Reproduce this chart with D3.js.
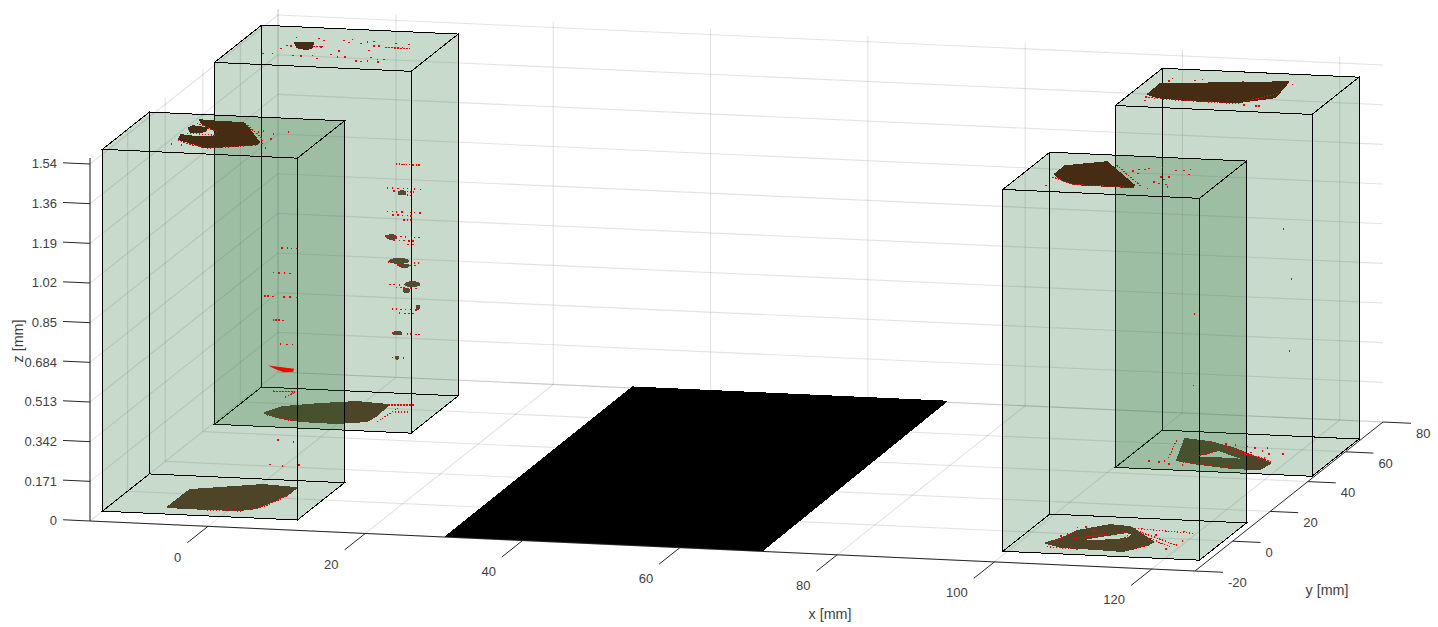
<!DOCTYPE html>
<html>
<head>
<meta charset="utf-8">
<title>Layer slices</title>
<script src="https://cdn.jsdelivr.net/npm/d3@7"></script>
<style>
html, body { margin: 0; background: #fff; }
text { font-family: "Liberation Sans", Arial, sans-serif; fill: #404040; font-size: 13px; }
</style>
</head>
<body>
<svg id="chart" width="1438" height="627"></svg>
<script>
// Axis ranges and ticks
var xRange = [-15, 125.5], yRange = [-20, 80], zRange = [0, 1.565];
var xTicks = [0, 20, 40, 60, 80, 100, 120];
var yTicks = [-20, 0, 20, 40, 60, 80];
var zTicks = [0, 0.171, 0.342, 0.513, 0.684, 0.855, 1.026, 1.197, 1.368, 1.539];
var zTickLabels = ['0', '0.171', '0.342', '0.513', '0.684', '0.85', '1.02', '1.19', '1.36', '1.54'];

// Build volumes, back ones first [x0, x1, y0, y1]
var backBoxes = [[-14.7, 10.3, 45, 70], [100.2, 125.2, 43.5, 68.5]];
var frontBoxes = [[-15, 9.8, -13.4, 11.6], [99.4, 124.4, -13, 12]];
var boxTopZ = 1.56;

// Build plate outline on the floor [x, y]
var plate = [[30, -20], [70.5, -20], [70, 81], [29.8, 81]];

// Material outlines on the bottom layer, [x, y]
var bottomBackLeft = [[-10.34,53.56],[-9.08,57.9],[-5.08,60.86],[-.94,63.2],[3.25,62.2],[3.45,55.5],[3.15,51.4],[-.15,49.3],[-4.91,49.5],[-8.28,51.4]];
var bottomBackRight = [[104.29,63.46],[107.75,62.28],[111.42,59.13],[118.16,50.67],[117.86,46.57],[114.46,46.43],[108.89,48.46],[106.51,49.9]];
var bottomBackRightHole = [[107.62,52.17],[110.05,57.46],[114.93,51.91],[110.78,52.26]];
var bottomFrontLeft = [[-7.74,-8.9],[-7.68,2.5],[.35,7.8],[4.77,6.85],[4.75,2.14],[3.11,-6.97],[1.38,-8.73],[-2.74,-9.05]];
var bottomFrontRight = [[103.34,-6.55],[104.63,-2.88],[105.25,1.96],[108.31,6.72],[111.02,6.02],[112.47,3.68],[116.06,-2.84],[115.47,-5.66],[113.82,-9.42],[110.38,-8.89],[105.99,-8.6]];
var bottomFrontRightHole = [[106.74,-3.72],[108.77,-.55],[111.42,2.76],[112.44,1.67],[112.48,-1.68],[109.17,-3.81]];

// Material outlines on the top layer, [x, y]
var topFrontLeft = [[-7.69,7.89],[-6.33,7.55],[-2.05,7.23],[-.15,2.99],[2.75,-4.38],[2.81,-5.7],[-.14,-7.75],[-3.22,-9.16],[-5.04,-6.91],[-7.33,-4.77],[-7.69,-2.17],[-5.47,-2.98],[-3.54,-2.53],[-3.97,1.4],[-6.99,6.05]];
var topFrontLeftFinger = [[-7.8,2.51],[-7.62,3.89],[-5.63,3.02],[-5.41,1.05],[-6.23,.2],[-6.95,.02]];
var topBackLeft = [[-7.94,59.5],[-5.77,60.01],[-5.28,57.46],[-5.58,56.04],[-7.09,57.03]];
var topFrontRight = [[103.36,-1.84],[103.35,3.52],[107.8,7.26],[114.53,-6.56],[114.71,-7.86],[107.53,-7.56],[105.11,-5.45]];
var topBackRight = [[102.42,51.61],[102.34,58.3],[117.44,63.25],[118.15,53.35],[114.34,49.08],[108.38,49],[103.95,49.97]];

// Small pieces between the layers in the back left volume, on the plane y = sliceY
var sliceY = 58;
var pieceX = [6.03, 4.72, 5.65, 6.32, 7.34, 6.63, 8.06, 5.43, 5.39];
var pieceZ = [.946, .753, .652, .632, .554, .526, .456, .34, .234];
var pieceW = [4.5, 5.5, 10.5, 5.5, 8, 3.5, 2.5, 5, 2.5];
var pieceH = [2.5, 3, 3, 2.2, 3, 2.5, 2.5, 2.2, 2];

// Stray points on the same plane, one row per z
var rowZ = [1.072, .968, .955, .94, .866, .852, .833, .76, .743, .728, .649, .638, .552, .54, .447, .43, .342, .238,
	.688, .58, .478, .376, .273];
var rowX = [
	[5.2,5.6,5.9,6.2,6.5,6.9,7.3,7.8,8.1],
	[4.1,4.7,5.4,6.1,6.6,7.5,8.3],
	[4.9,5.6,6.6,7,7.4],
	[6.6,7],
	[4.1,4.7,5.2,5.9,7,7.5,8.2],
	[4.8,5.4,6,6.6,7.1],
	[6.2,6.6,7],
	[3.9,4.9,5.8,6.4,7.5,8.1],
	[4.9,5.6,6.2,6.8,7.3],
	[6.7,7.3],
	[4.2,7.5,8],
	[5.4,5.6,7,7.6],
	[4.4,4.9,5.6,7.7],
	[5.2,5.8,6.2,7,7.7],
	[4.7,5.2,5.8,6.4,7,7.7],
	[5.6,6.3,6.8,7.3],
	[4.7,6.6,7,7.7,8.1],
	[4.7,5.1,6.1],
	[-9.3,-8.6,-8.1,-7.5],
	[-10.4,-9.7,-9,-8.3],
	[-11.5,-11.1,-10.5,-9.1,-8.3,-7.5],
	[-10.4,-10.1,-9.7,-9.2],
	[-9.5,-8.7,-8]
];
var redStreak = [[-11,.175],[-9.5,.171],[-7.7,.166],[-7.8,.153],[-9,.149],[-10.1,.162]];

// Other stray points [x, y, z]
var strayFrontLeft = [[4,0,.254],[6,0,.248],[3,0,.145],[4.6,0,.143],[6.7,0,.15]];
var strayRight = [[118,58,.966],[119,58,.752],[106.7,58,.582],[118.8,58,.441],[106.6,58,.272]];

// Stray points on the layers, [x, y]
var dotsTopA = [[1.41,3.36],[4.23,-7.38],[3.47,-1.52],[3.07,1.74],[4.57,3.44],[.96,2.58],[-7.68,-7.54],[-6.33,-7.88]];
var dotsTopB = [[-8.78,63.55],[-8.81,58.4],[-8.23,58.09],[-5.99,63.77],[-5.08,62.65],[-4.47,58.32],[-9.08,56.32],[-9.32,52.91],[-10.45,52.64],[-6.54,52.24],[-5.51,52.04],[-4.21,52.79],[-3.23,51.01],[-2.15,53.95],[-1.65,56.31],[-2.67,63.22],[-1.72,61.88],[-1.82,64.1],[-.22,61.8],[.39,62.83],[1.14,63.23],[1.8,60.48],[1.85,57.59],[2.4,60.63],[3.99,62.8],[5.75,62.55],[5.46,60.25],[-.94,52.45],[-.02,52.67],[1.86,50.44],[2.56,50.16],[3.27,50.77],[3.17,52.99],[4.22,52.12],[4.7,50.45],[5.02,52.31]];
var dotsTopC = [[103.73,-8.69],[112.06,2.91],[112.52,4.14],[113.25,4.31],[113.58,5.07],[115.08,5.87],[117.09,4.56],[118.09,4.8],[118.74,5.62],[119.3,2.4],[116.3,-.1],[117.3,.14],[117.05,-1.49],[116.25,-3.47],[117.11,-4.39],[118.61,-6.26],[118.01,-4.62],[113.01,1.57],[116.47,-7.89]];
var dotsTopD = [[102.73,61.08],[102.78,62.66],[105.76,62.25],[106.49,63.09],[111.74,62.77],[118.08,62.5],[102.78,48.11],[116.95,47.7],[117.35,47.79],[115.4,47.99]];
var dotsBottomC = [[104.55,4.7],[105.46,5.36],[107.06,3.06],[104.36,.18],[103.81,-1.07],[118,5.22],[115.79,4.7],[119.21,-.75],[118.47,-6.51],[117.01,-3.07],[115.09,2.29]];
var dotsBottomD = [[113.89,60.16],[115.37,60.51],[118.17,57.15],[115.17,58.68],[114.03,57.28],[109.75,61.86],[111.1,61.51],[104.94,49.52],[105.97,47.54],[107.73,47.28],[112.72,60.99],[116.48,56.75],[103.02,49.07],[104.37,48.73]];

// Stray points along the part edges, as lines of [x, y]
var rimsTop = [
	[[-1.81,7.28],[2.5,-1.75],[3.71,-6.83]],
	[[-7.3,-5.43],[-4.74,-8.18],[-2.59,-9.68],[3.08,-6.31]],
	[[-7.67,6.09],[-3.7,.8]],
	[[-7.28,-.73],[-3.6,-1.2]],
	[[3.55,59.34],[6.71,59.42]],
	[[-5.17,57.71],[-4.05,57.98]],
	[[109.42,5.64],[115.71,-7.41]],
	[[103.45,-3.62],[107.14,-7.88],[114.8,-8.06]],
	[[102.46,49.83],[105.01,48.87],[114.49,48.22],[117.79,55.72]]
];
var rimsBottom = [
	[[-2.59,-9.68],[1.53,-9.36],[3.77,-5.47],[4.9,1.51]],
	[[3.25,62.2],[6.5,62.94]],
	[[5.15,57.93],[6.72,58.3]],
	[[4.51,51.06],[4.9,60.55]],
	[[-9.79,52.35],[-5.75,49.29]],
	[[-12.7,67.76],[-9.91,67.76]],
	[[-10.35,64.29],[-9.9,67]],
	[[111.82,5.31],[119.8,3.87]],
	[[112.38,3.88],[119.36,-4.07]],
	[[115.15,-.6],[118.81,-5.32]],
	[[112.04,-3.58],[111.93,3.11]],
	[[103.82,-5.54],[105.31,1.53]],
	[[103.97,-8.86],[108.14,-9.43]],
	[[114.21,-9.1],[115.96,-4.88]],
	[[105.92,-2.81],[111.33,2.97]],
	[[103.43,62.59],[105.21,50.71]],
	[[107.7,62.49],[118.14,51.56]],
	[[109.51,58.45],[117.04,53.53]],
	[[107.12,48.92],[115.24,46.85]],
	[[108.36,52.58],[110.16,57.48]]
];

// Colours
var faceColor = 'rgb(57,119,69)', faceOpacity = 0.15;
var bottomColor = '#4e4427', topColor = '#472c14', dotColor = '#ff0000';

// The view is almost parallel, so each axis gets a pair of scales for its screen shift
var originX = 90, originY = 521;
var xToPx = d3.scaleLinear().domain(xRange).range([0, 1105]);
var xToPy = d3.scaleLinear().domain(xRange).range([0, 50]);
var yToPx = d3.scaleLinear().domain(yRange).range([0, 188]);
var yToPy = d3.scaleLinear().domain(yRange).range([0, -149]);
var zToPy = d3.scaleLinear().domain(zRange).range([0, -363]);

var project = function(x, y, z) {
	return [originX + xToPx(x) + yToPx(y), originY + xToPy(x) + yToPy(y) + zToPy(z)];
};

var chart = d3.select('#chart');
var line = d3.line();

var addPath = function(group, pts3d, close) {
	var d = line(pts3d.map(function(p) { return project(p[0], p[1], p[2]); }));
	return group.append('path').attr('d', close ? d + 'Z' : d);
};

// Segment on the scene: two 3d ends
var seg = function(group, a, b) {
	return addPath(group, [a, b], false);
};

// Walls and floor grid
var grid = chart.append('g').attr('fill', 'none').attr('stroke', '#262626')
	.attr('stroke-opacity', 0.13).attr('stroke-width', 1.1);
var xMin = xRange[0], xMax = xRange[1], yMin = yRange[0], yMax = yRange[1], zMax = zRange[1];
xTicks.forEach(function(x) {
	seg(grid, [x, yMin, 0], [x, yMax, 0]);
	seg(grid, [x, yMax, 0], [x, yMax, zMax]);
});
yTicks.forEach(function(y) {
	seg(grid, [xMin, y, 0], [xMax, y, 0]);
	seg(grid, [xMin, y, 0], [xMin, y, zMax]);
});
zTicks.forEach(function(z) {
	seg(grid, [xMin, yMin, z], [xMin, yMax, z]);
	seg(grid, [xMin, yMax, z], [xMax, yMax, z]);
});
seg(grid, [xMin, yMax, 0], [xMin, yMax, zMax]);

// Plate
addPath(chart.append('g').attr('fill', '#000').attr('shape-rendering', 'crispEdges'),
	plate.map(function(p) { return [p[0], p[1], 0]; }), true);

// Axis lines and ticks
var axes = chart.append('g').attr('fill', 'none').attr('stroke', '#262626').attr('stroke-width', 1);
seg(axes, [xMin, yMin, 0], [xMax, yMin, 0]);
seg(axes, [xMax, yMin, 0], [xMax, yMax, 0]);
seg(axes, [xMin, yMin, 0], [xMin, yMin, zMax]);

var xTickLen = 11, yTickLen = 3.56, zTickLen = 3.43;
xTicks.forEach(function(x) {
	seg(axes, [x, yMin, 0], [x, yMin - xTickLen, 0]);
	var p = project(x, yMin - xTickLen, 0);
	chart.append('text').attr('x', p[0] - 6).attr('y', p[1] + 19).attr('text-anchor', 'end').text(x);
});
yTicks.forEach(function(y) {
	seg(axes, [xMax, y, 0], [xMax + yTickLen, y, 0]);
	var p = project(xMax + yTickLen, y, 0);
	chart.append('text').attr('x', p[0] + 5).attr('y', p[1] + 14.5).text(y);
});
zTicks.forEach(function(z, i) {
	seg(axes, [xMin, yMin, z], [xMin - zTickLen, yMin, z]);
	var p = project(xMin - zTickLen, yMin, z);
	chart.append('text').attr('x', p[0] - 6).attr('y', p[1] + 5.5).attr('text-anchor', 'end').text(zTickLabels[i]);
});

chart.append('text').attr('x', 830).attr('y', 619).attr('text-anchor', 'middle').style('font-size', '14.3px').text('x [mm]');
chart.append('text').attr('x', 1327).attr('y', 595).attr('text-anchor', 'middle').style('font-size', '14.3px').text('y [mm]');
chart.append('text').attr('transform', 'translate(23,341) rotate(-90)').attr('text-anchor', 'middle').style('font-size', '14.3px').text('z [mm]');

// One volume: six see-through faces, then the twelve edges
var drawBox = function(b) {
	var g = chart.append('g');
	var x0 = b[0], x1 = b[1], y0 = b[2], y1 = b[3], z0 = 0, z1 = boxTopZ;
	var faces = [
		[[x0,y0,z0],[x1,y0,z0],[x1,y1,z0],[x0,y1,z0]],
		[[x0,y0,z1],[x1,y0,z1],[x1,y1,z1],[x0,y1,z1]],
		[[x0,y0,z0],[x1,y0,z0],[x1,y0,z1],[x0,y0,z1]],
		[[x0,y1,z0],[x1,y1,z0],[x1,y1,z1],[x0,y1,z1]],
		[[x0,y0,z0],[x0,y1,z0],[x0,y1,z1],[x0,y0,z1]],
		[[x1,y0,z0],[x1,y1,z0],[x1,y1,z1],[x1,y0,z1]]
	];
	var fg = g.append('g').attr('fill', faceColor).attr('fill-opacity', faceOpacity).attr('shape-rendering', 'crispEdges');
	faces.forEach(function(f) { addPath(fg, f, true); });
	var eg = g.append('g').attr('fill', 'none').attr('stroke', '#000').attr('stroke-width', 1).attr('shape-rendering', 'crispEdges');
	faces.forEach(function(f) { addPath(eg, f, true); });
};

// Outline with optional holes, all on one layer
var drawMaterial = function(group, z, outlines) {
	var d = outlines.map(function(o) {
		return line(o.map(function(p) { return project(p[0], p[1], z); })) + 'Z';
	}).join('');
	group.append('path').attr('d', d).attr('fill-rule', 'evenodd');
};

// the stroke thickens the parts a little, the outlines are read a bit too tight
var matGroup = function(color) {
	return chart.append('g').attr('fill', color).attr('stroke', color).attr('stroke-width', 2)
		.attr('stroke-linejoin', 'round').attr('shape-rendering', 'crispEdges');
};

backBoxes.forEach(drawBox);
var backBottom = matGroup(bottomColor);
drawMaterial(backBottom, 0, [bottomBackLeft]);
drawMaterial(backBottom, 0, [bottomBackRight, bottomBackRightHole]);

frontBoxes.forEach(drawBox);
var frontBottom = matGroup(bottomColor);
drawMaterial(frontBottom, 0, [bottomFrontLeft]);
drawMaterial(frontBottom, 0, [bottomFrontRight, bottomFrontRightHole]);

// Pieces between layers
chart.append('g').attr('fill', '#544c2f').attr('shape-rendering', 'crispEdges').selectAll('ellipse').data(pieceX)
	.enter()
	.append('ellipse')
	.attr('cx', function(d) { return project(d, sliceY, 0)[0]; })
	.attr('cy', function(d, i) { return project(d, sliceY, pieceZ[i])[1]; })
	.attr('rx', function(d, i) { return pieceW[i]; })
	.attr('ry', function(d, i) { return pieceH[i]; });

var topLayer = matGroup(topColor);
drawMaterial(topLayer, boxTopZ, [topBackLeft]);
drawMaterial(topLayer, boxTopZ, [topBackRight]);
drawMaterial(topLayer, boxTopZ, [topFrontLeft]);
drawMaterial(topLayer, boxTopZ, [topFrontLeftFinger]);
drawMaterial(topLayer, boxTopZ, [topFrontRight]);

// Red streak
addPath(chart.append('g').attr('fill', dotColor), redStreak.map(function(p) { return [p[0], sliceY, p[1]]; }), true);

// Dotted red runs along the edges
var rims = chart.append('g').attr('fill', 'none').attr('stroke', dotColor).attr('stroke-width', 1.2)
	.attr('stroke-dasharray', '1.5 1.5').attr('shape-rendering', 'crispEdges');
rimsTop.forEach(function(r) {
	addPath(rims, r.map(function(p) { return [p[0], p[1], boxTopZ]; }), false);
});
rimsBottom.forEach(function(r) {
	addPath(rims, r.map(function(p) { return [p[0], p[1], 0]; }), false);
});

// All the single stray points
var strays = [];
rowZ.forEach(function(z, i) {
	rowX[i].forEach(function(x) { strays.push([x, sliceY, z]); });
});
var addLayer = function(list, z) {
	list.forEach(function(p) { strays.push([p[0], p[1], z]); });
};
addLayer(dotsTopA, boxTopZ);
addLayer(dotsTopB, boxTopZ);
addLayer(dotsTopC, boxTopZ);
addLayer(dotsTopD, boxTopZ);
addLayer(dotsBottomC, 0);
addLayer(dotsBottomD, 0);
strays = strays.concat(strayFrontLeft, strayRight);

chart.append('g').attr('fill', dotColor).attr('shape-rendering', 'crispEdges').selectAll('rect').data(strays)
	.enter()
	.append('rect')
	.attr('x', function(d) { return project(d[0], d[1], d[2])[0]; })
	.attr('y', function(d) { return project(d[0], d[1], d[2])[1]; })
	.attr('width', 1.5)
	.attr('height', 1.5);
</script>
</body>
</html>
